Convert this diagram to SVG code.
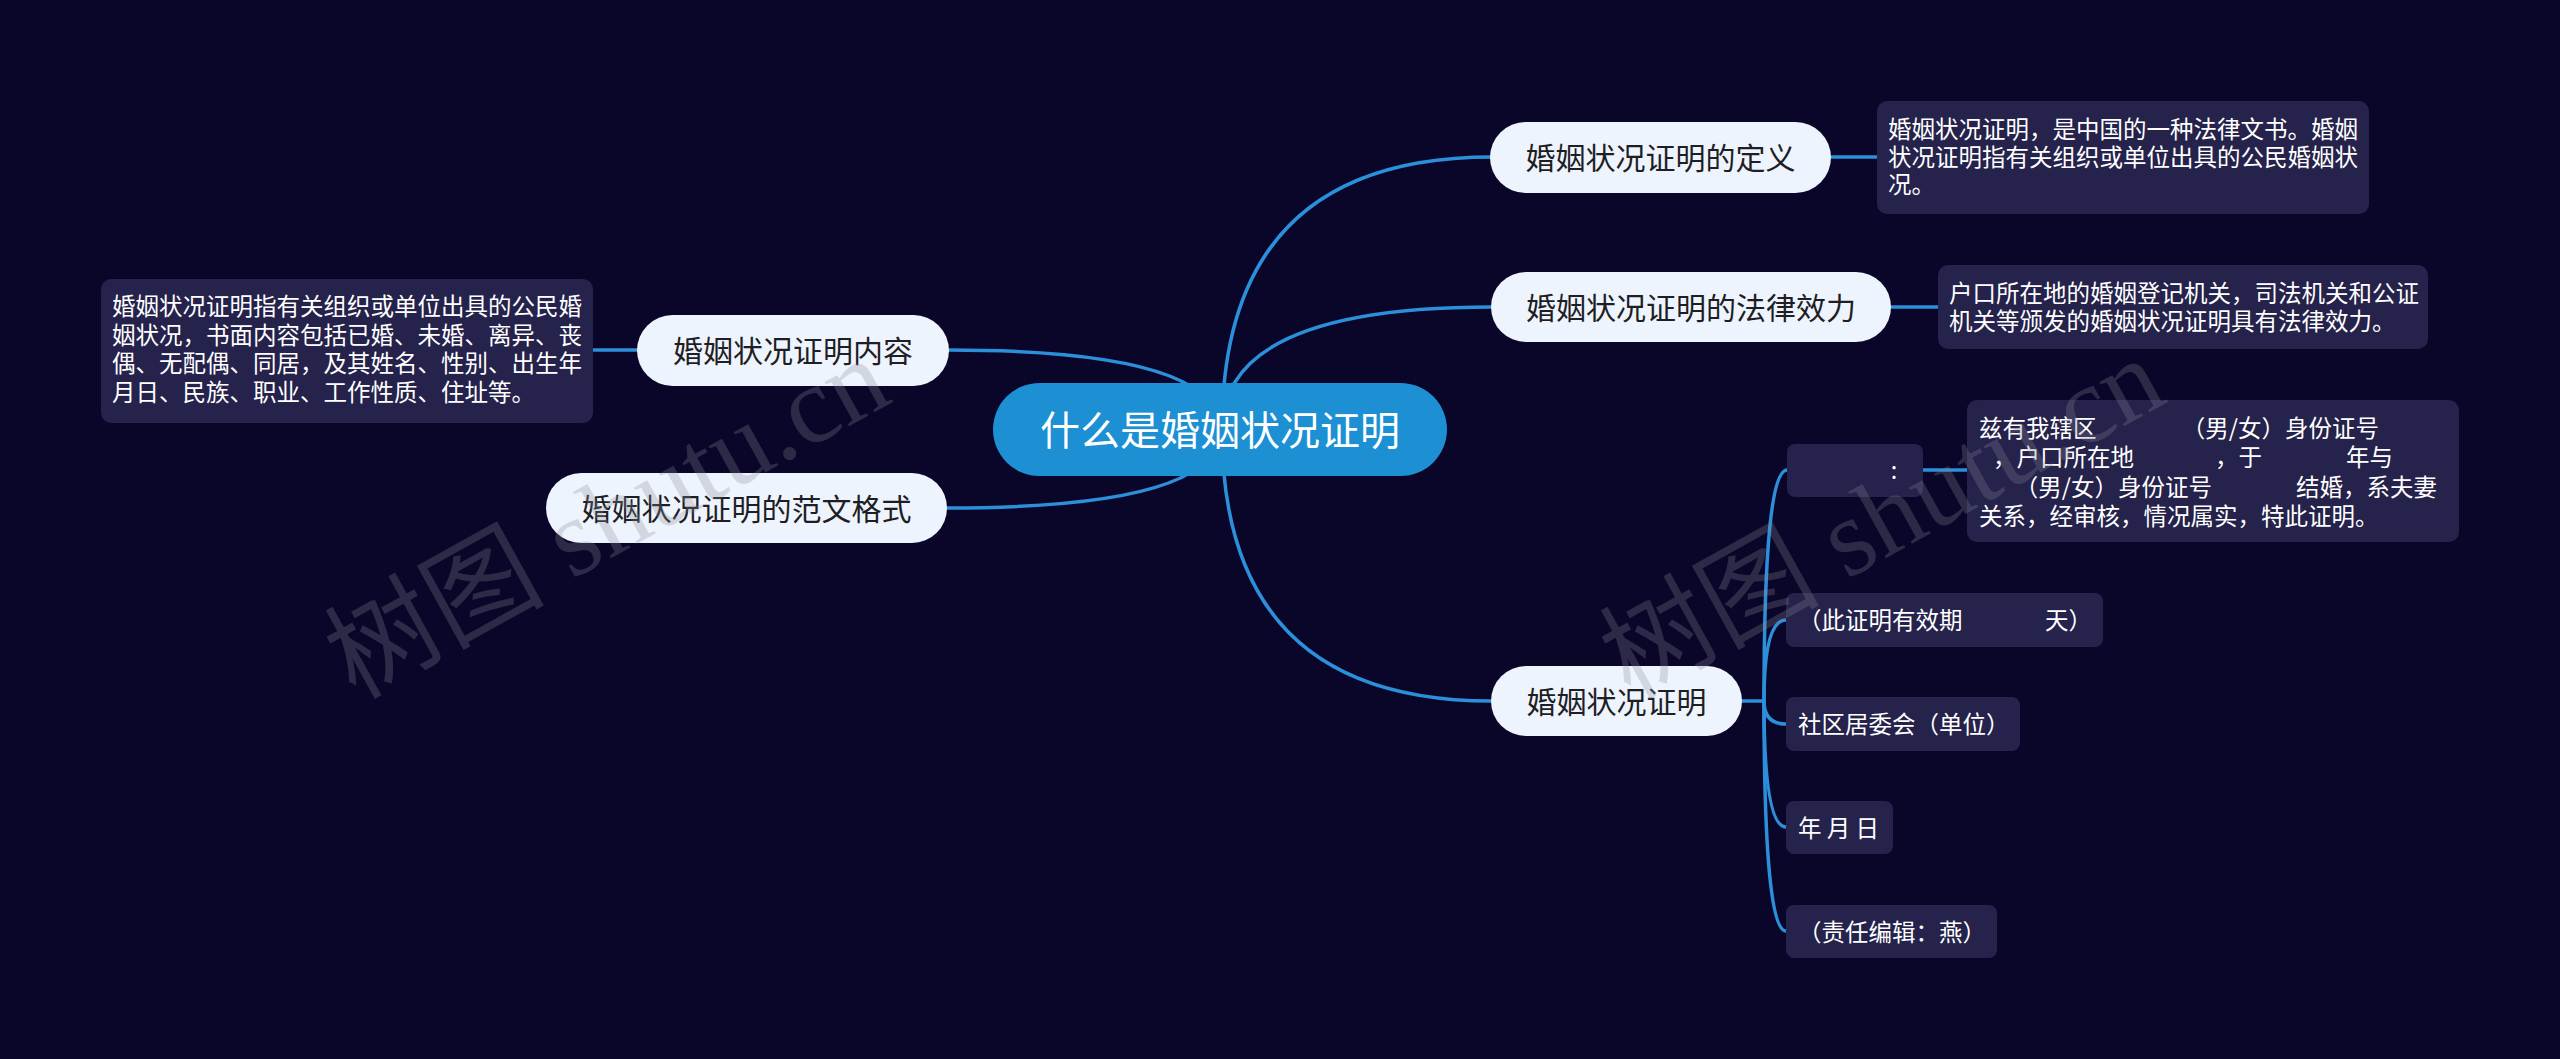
<svg xmlns="http://www.w3.org/2000/svg" width="2560" height="1059" viewBox="0 0 2560 1059">
<style>
  .bg { fill: #0a0629; }
  .conn { fill: none; stroke: #2b8fd9; stroke-width: 3.5; stroke-linecap: round; }
  .main rect { fill: #eef4fd; }
  .main text { font-family: "Noto Sans CJK SC", "Liberation Sans", sans-serif; font-size: 30px; fill: #1e1e24; text-anchor: middle; }
  .leaf rect { fill: #25224b; }
  .leaf text { font-family: "Noto Sans CJK SC", "Liberation Sans", sans-serif; font-size: 23.5px; fill: #ffffff; }
  .root rect { fill: #1d8fd3; }
  .root text { font-family: "Noto Sans CJK SC", "Liberation Sans", sans-serif; font-size: 40px; fill: #ffffff; text-anchor: middle; }
  .wm { font-family: "Liberation Serif", "Noto Sans CJK SC", serif; font-size: 110px; fill: #8a8a96; fill-opacity: 0.28; }
</style>
<rect class="bg" x="0" y="0" width="2560" height="1059"/>

<g id="connectors">
  <path class="conn" d="M1222 430 Q1222 157 1492 157"/>
  <path class="conn" d="M1222 430 Q1222 307 1492 307"/>
  <path class="conn" d="M1222 430 Q1222 701 1492 701"/>
  <path class="conn" d="M1220 430 Q1220 350 948 350"/>
  <path class="conn" d="M1220 430 Q1220 508 946 508"/>
  <path class="conn" d="M1831 157 L1878 157"/>
  <path class="conn" d="M1891 307 L1938 307"/>
  <path class="conn" d="M593 350 L637 350"/>
  <path class="conn" d="M1742 701 L1764 701"/>
  <path class="conn" d="M1764 701 Q1764 470 1787 470"/>
  <path class="conn" d="M1764 701 Q1764 620 1786 620"/>
  <path class="conn" d="M1764 701 Q1764 724 1786 724"/>
  <path class="conn" d="M1764 701 Q1764 827 1786 827"/>
  <path class="conn" d="M1764 701 Q1764 931 1786 931"/>
  <path class="conn" d="M1923 470 L1967 470"/>
</g>

<g id="node-root" class="root">
  <rect x="993" y="383" width="454" height="93" rx="46.5"/>
  <text x="1220" y="444.5">什么是婚姻状况证明</text>
</g>

<g id="node-definition" class="main">
  <rect x="1490" y="122" width="341" height="71" rx="35.5"/>
  <text x="1660.5" y="169">婚姻状况证明的定义</text>
</g>
<g id="leaf-definition" class="leaf">
  <rect x="1877" y="101" width="492" height="113" rx="10"/>
  <text x="1888" y="138">婚姻状况证明，是中国的一种法律文书。婚姻</text>
  <text x="1888" y="165.5">状况证明指有关组织或单位出具的公民婚姻状</text>
  <text x="1888" y="193">况。</text>
</g>

<g id="node-legal" class="main">
  <rect x="1491" y="272" width="400" height="70" rx="35"/>
  <text x="1691" y="318.5">婚姻状况证明的法律效力</text>
</g>
<g id="leaf-legal" class="leaf">
  <rect x="1938" y="265" width="490" height="84" rx="10"/>
  <text x="1949" y="302">户口所在地的婚姻登记机关，司法机关和公证</text>
  <text x="1949" y="330">机关等颁发的婚姻状况证明具有法律效力。</text>
</g>

<g id="node-content" class="main">
  <rect x="637" y="315" width="312" height="71" rx="35.5"/>
  <text x="793" y="362">婚姻状况证明内容</text>
</g>
<g id="leaf-content" class="leaf">
  <rect x="101" y="279" width="492" height="144" rx="10"/>
  <text x="112" y="315">婚姻状况证明指有关组织或单位出具的公民婚</text>
  <text x="112" y="343.5">姻状况，书面内容包括已婚、未婚、离异、丧</text>
  <text x="112" y="372">偶、无配偶、同居，及其姓名、性别、出生年</text>
  <text x="112" y="400.5">月日、民族、职业、工作性质、住址等。</text>
</g>

<g id="node-format" class="main">
  <rect x="546" y="473" width="401" height="70" rx="35"/>
  <text x="746.5" y="519.5">婚姻状况证明的范文格式</text>
</g>

<g id="node-cert" class="main">
  <rect x="1491" y="666" width="251" height="70" rx="35"/>
  <text x="1616.5" y="712.5">婚姻状况证明</text>
</g>

<g id="child-colon" class="leaf">
  <rect x="1787" y="444" width="136" height="53" rx="8"/>
  <text x="1894" y="479" text-anchor="middle">:</text>
</g>
<g id="leaf-cert-text" class="leaf">
  <rect x="1967" y="400" width="492" height="142" rx="10"/>
  <text x="1979" y="437">兹有我辖区</text>
  <text x="2379" y="437" text-anchor="end">（男/女）身份证号</text>
  <text x="2134" y="466" text-anchor="end">，户口所在地</text>
  <text x="2215" y="466">，于</text>
  <text x="2346" y="466">年与</text>
  <text x="2212" y="495.5" text-anchor="end">（男/女）身份证号</text>
  <text x="2437" y="495.5" text-anchor="end">结婚，系夫妻</text>
  <text x="1979" y="525">关系，经审核，情况属实，特此证明。</text>
</g>
<g id="child-valid" class="leaf">
  <rect x="1786" y="593" width="317" height="54" rx="8"/>
  <text x="1798" y="629">（此证明有效期</text>
  <text x="2092" y="629" text-anchor="end">天）</text>
</g>
<g id="child-unit" class="leaf">
  <rect x="1786" y="697" width="234" height="54" rx="8"/>
  <text x="1798" y="733">社区居委会（单位）</text>
</g>
<g id="child-date" class="leaf">
  <rect x="1786" y="801" width="107" height="53" rx="8"/>
  <text x="1798" y="836.5">年 月 日</text>
</g>
<g id="child-editor" class="leaf">
  <rect x="1786" y="905" width="211" height="53" rx="8"/>
  <text x="1798" y="940.5">（责任编辑：燕）</text>
</g>

<g id="watermarks">
  <text class="wm" x="355" y="700" transform="rotate(-29 355 700)">树图 shutu.cn</text>
  <text class="wm" x="1630" y="700" transform="rotate(-29 1630 700)">树图 shutu.cn</text>
</g>
</svg>
